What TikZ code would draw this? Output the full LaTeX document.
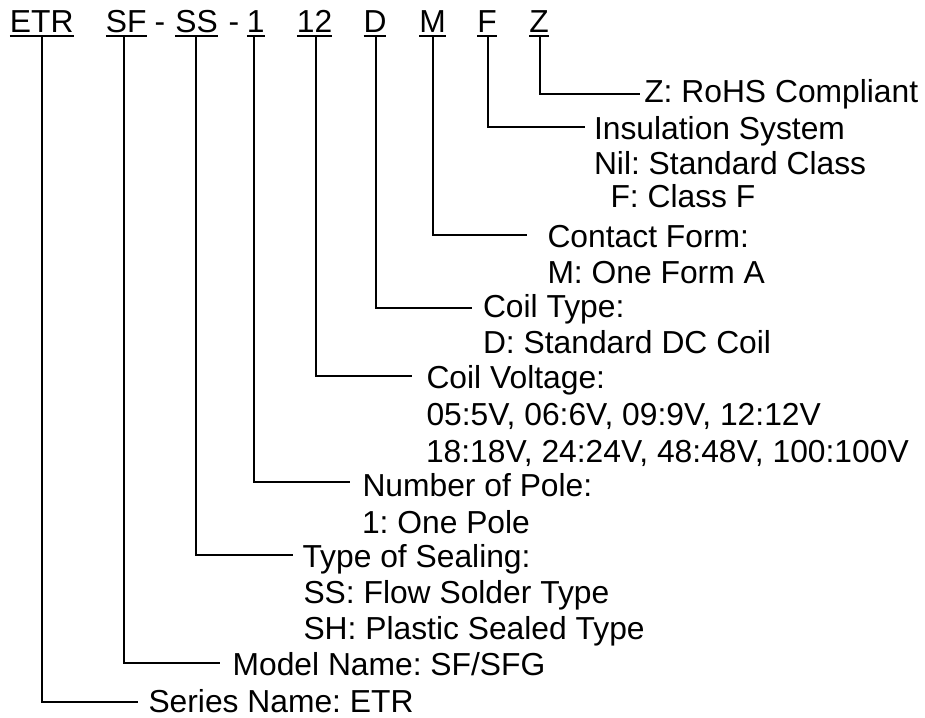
\documentclass[tikz,border=0pt]{standalone}
\usepackage{fontspec}
\setmainfont{Liberation Sans}
\frenchspacing
\begin{document}
\begin{tikzpicture}[x=1pt,y=-1pt,
  txt/.style={inner sep=0pt,outer sep=0pt,font=\fontsize{31.8}{38}\selectfont\frenchspacing},
  tok/.style={txt,anchor=base},
  lbl/.style={txt,anchor=base west},
  ul/.style={line width=2.8pt},
  conn/.style={line width=2pt}]
\useasboundingbox (0,0) rectangle (925,717);
% header tokens
\node[tok] (etr) at (41.7,33) {ETR};
\node[tok] (sf)  at (126.3,33) {SF};
\node[tok] (h1)  at (160,33) {-};
\node[tok] (ss)  at (196.5,33) {SS};
\node[tok] (h2)  at (234,33) {-};
\node[tok] (one) at (255.8,33) {1};
\node[tok] (tw)  at (314.5,33) {12};
\node[tok] (d)   at (375,33) {D};
\node[tok] (m)   at (432.5,33) {M};
\node[tok] (f)   at (487,33) {F};
\node[tok] (z)   at (539,33) {Z};
\foreach \t in {etr,sf,ss,one,tw,d,m,f,z}
  \draw[ul] ([yshift=-3pt]\t.base west) -- ([yshift=-3pt]\t.base east);
% labels
\node[lbl] (zl)   at (644.3,102) {Z: RoHS Compliant};
\node[lbl] (insl) at (594,139) {Insulation System};
\node[lbl] (nill) at (594,174) {Nil: Standard Class};
\node[lbl] (fcl)  at (610.5,207) {F: Class F};
\node[lbl] (cfl)  at (547.5,247) {Contact Form:};
\node[lbl] (mfl)  at (547.5,283) {M: One Form A};
\node[lbl] (ctl)  at (483,317) {Coil Type:};
\node[lbl] (dcl)  at (483,353) {D: Standard DC Coil};
\node[lbl] (cvl)  at (426.5,388) {Coil Voltage:};
\node[lbl] (v1l)  at (426.5,425) {05:5V, 06:6V, 09:9V, 12:12V};
\node[lbl] (v2l)  at (426,462) {18:18V, 24:24V, 48:48V, 100:100V};
\node[lbl] (npl)  at (362.5,496) {Number of Pole:};
\node[lbl] (opl)  at (362,533) {1: One Pole};
\node[lbl] (tsl)  at (302.5,567) {Type of Sealing:};
\node[lbl] (ssl)  at (303.5,603) {SS: Flow Solder Type};
\node[lbl] (shl)  at (303.5,639) {SH: Plastic Sealed Type};
\node[lbl] (mnl)  at (232.6,675) {Model Name: SF/SFG};
\node[lbl] (snl)  at (148.5,712) {Series Name: ETR};
% connector ends
\coordinate (ze)  at (640,94);
\coordinate (fe)  at (585,127);
\coordinate (me)  at (527,235);
\coordinate (de)  at (472,308);
\coordinate (twe) at (412,376);
\coordinate (onee) at (350,482);
\coordinate (sse) at (293,555);
\coordinate (sfe) at (220,663);
\coordinate (etre) at (138,702);
% connectors
\draw[conn] ([yshift=-4pt,xshift=1pt]z.base) |- (ze);
\draw[conn] ([yshift=-4pt,xshift=1pt]f.base) |- (fe);
\draw[conn] ([yshift=-4pt,xshift=0.5pt]m.base) |- (me);
\draw[conn] ([yshift=-4pt,xshift=1pt]d.base) |- (de);
\draw[conn] ([yshift=-4pt,xshift=1.5pt]tw.base) |- (twe);
\draw[conn] ([yshift=-4pt,xshift=-1.8pt]one.base) |- (onee);
\draw[conn] ([yshift=-4pt,xshift=-0.5pt]ss.base) |- (sse);
\draw[conn] ([yshift=-4pt,xshift=-2.3pt]sf.base) |- (sfe);
\draw[conn] ([yshift=-4pt,xshift=0.3pt]etr.base) |- (etre);
\end{tikzpicture}
\end{document}
